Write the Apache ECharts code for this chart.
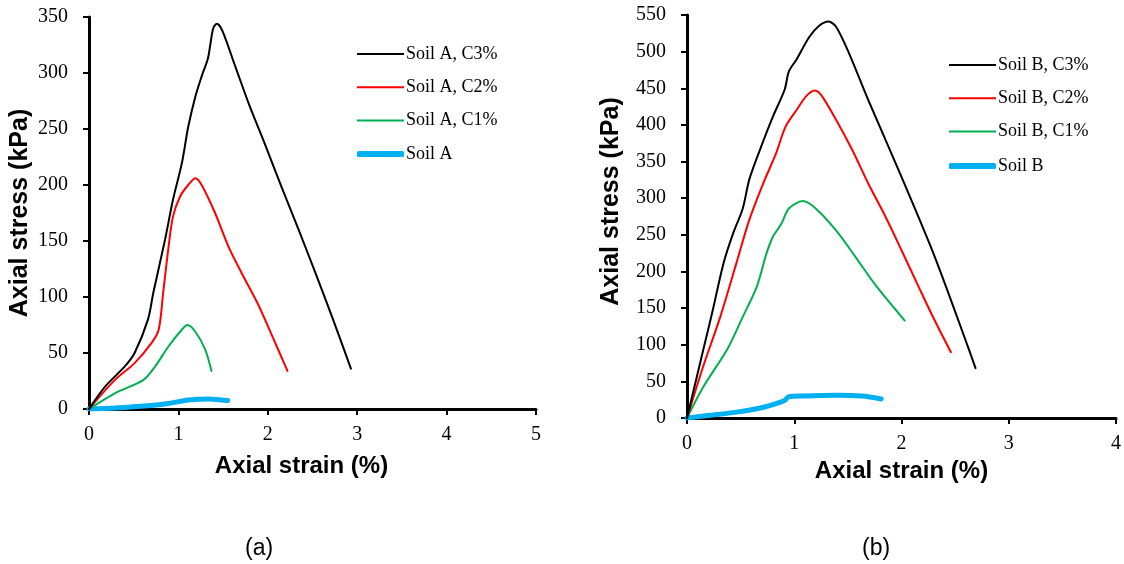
<!DOCTYPE html>
<html>
<head>
<meta charset="utf-8">
<script src="https://cdn.jsdelivr.net/npm/echarts@6/dist/echarts.min.js"></script>
<style>
  html, body { margin: 0; padding: 0; background: #fff; }
  #chart { width: 1124px; height: 564px; }
</style>
</head>
<body>
<div id="chart"></div>
<script>
// Soil A (panel a): [strain %, stress kPa]
const soilA_C3 = [[0,0],[0.18,20],[0.40,38],[0.51,50],[0.66,80],[0.72,104],[0.85,151],[0.94,187],[1.04,220],[1.11,252],[1.19,279],[1.26,297],[1.33,313],[1.36,327],[1.39,340],[1.43,344],[1.49,338],[1.64,305],[1.79,272],[1.97,236],[2.16,197],[2.35,159],[2.54,120],[2.72,82],[2.93,36]];
const soilA_C2 = [[0,0],[0.29,26],[0.51,41],[0.70,59],[0.78,71],[0.83,104],[0.89,145],[0.94,172],[1.02,190],[1.11,200],[1.19,206],[1.26,200],[1.41,175],[1.56,145],[1.71,121],[1.90,92],[2.05,65],[2.22,34]];
const soilA_C1 = [[0,0],[0.29,14],[0.61,26],[0.74,38],[0.89,56],[1.04,71],[1.10,75],[1.19,69],[1.30,53],[1.37,34]];
const soilA = [[0,0],[0.29,1],[0.66,3],[0.89,5],[1.11,8],[1.34,9],[1.55,7.5]];

// Soil B (panel b)
const soilB_C3 = [[0,0],[0.15,92],[0.24,147],[0.34,211],[0.43,252],[0.52,286],[0.58,325],[0.68,366],[0.80,411],[0.91,448],[0.95,473],[1.02,489],[1.14,520],[1.23,535],[1.32,541],[1.39,534],[1.51,498],[1.69,434],[2.00,329],[2.31,220],[2.62,97],[2.69,68]];
const soilB_C2 = [[0,0],[0.15,70],[0.31,138],[0.46,211],[0.58,270],[0.71,320],[0.83,361],[0.92,398],[1.02,420],[1.11,439],[1.19,447],[1.25,441],[1.39,407],[1.54,366],[1.69,320],[1.85,275],[2.00,229],[2.16,179],[2.31,133],[2.46,90]];
const soilB_C1 = [[0,0],[0.15,42],[0.38,95],[0.52,138],[0.65,179],[0.74,224],[0.80,247],[0.88,265],[0.95,286],[1.08,296],[1.20,286],[1.39,256],[1.57,220],[1.76,181],[2.03,133]];
const soilB = [[0,0],[0.24,4],[0.46,8],[0.66,13],[0.77,17],[0.91,24],[0.95,29],[1.08,30],[1.39,31],[1.63,30],[1.81,26]];

const namesA = ["Soil A, C3%", "Soil A, C2%", "Soil A, C1%", "Soil A"];
const namesB = ["Soil B, C3%", "Soil B, C2%", "Soil B, C1%", "Soil B"];
const colors = ["#000000", "#ff0000", "#00b050", "#00b0f0"];
const widths = [2, 2, 2, 5];

const serif = "Liberation Serif";
const sans = "Liberation Sans";

function xAxisCfg(gridIndex, max, gap, pad) {
  return {
    type: 'value', gridIndex: gridIndex, min: 0, max: max, interval: 1,
    name: 'Axial strain (%)', nameLocation: 'middle', nameGap: gap,
    nameTextStyle: { fontFamily: sans, fontWeight: 'bold', fontSize: 24, color: '#000', padding: pad },
    axisLine: { lineStyle: { color: '#000', width: 3 } },
    axisTick: { show: true, length: 6, lineStyle: { color: '#000', width: 2 } },
    axisLabel: { fontFamily: serif, fontSize: 20, color: '#000', margin: 16 },
    splitLine: { show: false }
  };
}
function yAxisCfg(gridIndex, max, gap, pad) {
  return {
    type: 'value', gridIndex: gridIndex, min: 0, max: max, interval: 50,
    name: 'Axial stress (kPa)', nameLocation: 'middle', nameGap: gap,
    nameTextStyle: { fontFamily: sans, fontWeight: 'bold', fontSize: 25, color: '#000', padding: pad },
    axisLine: { show: true, lineStyle: { color: '#000', width: 3 } },
    axisTick: { show: true, length: 6, lineStyle: { color: '#000', width: 2 } },
    axisLabel: { fontFamily: serif, fontSize: 20, color: '#000', margin: 21 },
    splitLine: { show: false }
  };
}

function makeSeries(names, datas, axisIndex) {
  return names.map((n, i) => ({
    name: n, type: 'line', xAxisIndex: axisIndex, yAxisIndex: axisIndex,
    data: datas[i], smooth: 0.3, showSymbol: false, symbol: 'none',
    lineStyle: { color: colors[i], width: widths[i], cap: 'round' },
    itemStyle: { color: colors[i] },
    z: i === 3 ? 1 : 5 - i
  }));
}

// thin lines and the thick blue line sit in separate legends so their icons can differ
function legendCfg(names, left, top, thick) {
  return {
    data: names, orient: 'vertical', left: left, top: top,
    icon: thick ? 'roundRect' : 'rect',
    itemWidth: 47, itemHeight: thick ? 6 : 2, itemGap: 15.3,
    textStyle: { fontFamily: serif, fontSize: 18, color: '#000', padding: [0, 0, 0, -3] }
  };
}

const chart = echarts.init(document.getElementById('chart'));
chart.setOption({
  backgroundColor: '#fff',
  animation: false,
  title: [
    { text: '(a)', left: 240, top: 532, textStyle: { fontFamily: sans, fontWeight: 'normal', fontSize: 23, color: '#000' } },
    { text: '(b)', left: 857, top: 532, textStyle: { fontFamily: sans, fontWeight: 'normal', fontSize: 23, color: '#000' } }
  ],
  legend: [
    legendCfg(namesA.slice(0, 3), 352, 40, false),
    legendCfg(namesA.slice(3), 352, 140, true),
    legendCfg(namesB.slice(0, 3), 944, 51, false),
    legendCfg(namesB.slice(3), 944, 152, true)
  ],
  grid: [
    { left: 89, top: 17, width: 447, height: 392 },
    { left: 687, top: 15, width: 432, height: 403 }
  ],
  xAxis: [xAxisCfg(0, 5, 45, [0, 22, 0, 0]), xAxisCfg(1, 4, 36, 0)],
  yAxis: [yAxisCfg(0, 350, 56, 0), yAxisCfg(1, 550, 63, [0, 0, 0, 30])],
  series: makeSeries(namesA, [soilA_C3, soilA_C2, soilA_C1, soilA], 0)
    .concat(makeSeries(namesB, [soilB_C3, soilB_C2, soilB_C1, soilB], 1))
});
</script>
</body>
</html>
